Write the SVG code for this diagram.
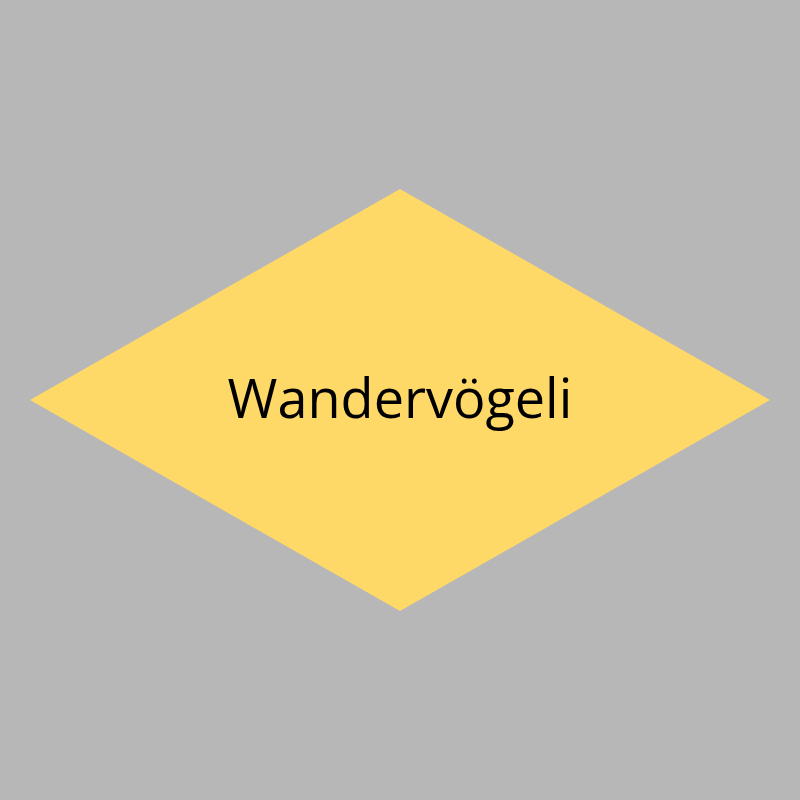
<svg xmlns="http://www.w3.org/2000/svg" width="800" height="800" viewBox="0 0 800 800">
<style>
.bg{fill:#b7b7b7}
.dia{fill:#fed968}
.lbl{font-family:"Open Sans","Noto Sans",sans-serif;font-size:54px;fill:#000;text-anchor:middle}
</style>
<rect class="bg" x="0" y="0" width="800" height="800"/>
<g id="node-wandervoegeli">
<polygon class="dia" points="400,189 770,400 400,611 30,400"/>
<text class="lbl" x="400" y="418">Wandervögeli</text>
</g>
<g id="connectors"/>
</svg>
